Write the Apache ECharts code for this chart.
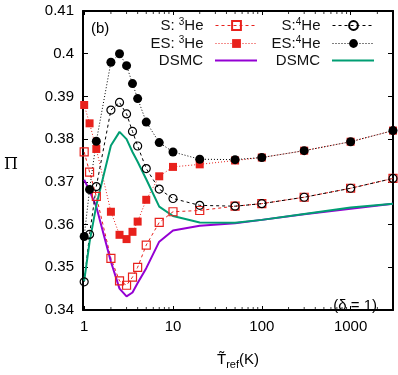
<!DOCTYPE html>
<html><head><meta charset="utf-8">
<script src="https://cdn.jsdelivr.net/npm/echarts@6/dist/echarts.min.js"></script>
<style>html,body{margin:0;padding:0;background:#fff}#c{width:398px;height:375px}</style>
</head><body><div id="c"></div>
<script>
// Temperatures (K) shared by all series
const temps = [1, 1.15, 1.37, 2, 2.5, 3, 3.5, 4, 5, 7, 10, 20, 50, 100, 300, 1000, 3000];
// S: 3He (open red squares, dashed)
const s3He  = [0.3770, 0.3723, 0.3666, 0.3521, 0.3468, 0.3458, 0.3477, 0.3500, 0.3552, 0.3605, 0.3630, 0.3633, 0.3643, 0.3649, 0.3664, 0.3685, 0.3708];
// ES: 3He (filled red squares, dotted)
const es3He = [0.3880, 0.3837, 0.3777, 0.3630, 0.3576, 0.3566, 0.3583, 0.3607, 0.3658, 0.3713, 0.3735, 0.3741, 0.3750, 0.3757, 0.3773, 0.3794, 0.3820];
// DSMC 3He (purple)
const dsmc3 = [0.3705, 0.3679, 0.3642, 0.3513, 0.3450, 0.3432, 0.3441, 0.3463, 0.3498, 0.3560, 0.3586, 0.3597, 0.3603, 0.3611, 0.3624, 0.3637, 0.3649];
// S: 4He (open black circles, dashed)
const s4He  = [0.3466, 0.3577, 0.3689, 0.3868, 0.3886, 0.3859, 0.3818, 0.3784, 0.3731, 0.3683, 0.3661, 0.3645, 0.3643, 0.3649, 0.3664, 0.3685, 0.3708];
// ES: 4He (filled black circles, dotted)
const es4He = [0.3572, 0.3682, 0.3795, 0.3980, 0.4000, 0.3972, 0.3930, 0.3895, 0.3840, 0.3792, 0.3770, 0.3753, 0.3752, 0.3757, 0.3773, 0.3794, 0.3820];
// DSMC 4He (green)
const dsmc4 = [0.3468, 0.3559, 0.3645, 0.3785, 0.3817, 0.3800, 0.3770, 0.3747, 0.3706, 0.3642, 0.3620, 0.3605, 0.3604, 0.3611, 0.3625, 0.3640, 0.3649];
// axis tick values
const xMajorTicks = [1, 10, 100, 1000];
const xMinorTicks = [2,3,4,5,6,7,8,9,20,30,40,50,60,70,80,90,200,300,400,500,600,700,800,900,2000];
const yRange = [0.34, 0.41];
const xRange = [0.97, 3000];

const FONT = '"Liberation Sans", Arial, Helvetica, sans-serif';
const RED = '#e8211c';
const PURPLE = '#9400d3';
const GREEN = '#009e73';
const pairs = ys => temps.map((t, i) => [t, ys[i]]);

const chart = echarts.init(document.getElementById('c'), null, {renderer: 'canvas'});

const legendRich = {
  n: {fontSize: 15, fontFamily: FONT, color: '#111', lineHeight: 17},
  s: {fontSize: 10, fontFamily: FONT, color: '#111', verticalAlign: 'top', lineHeight: 17, padding: [0, 0, 6, 0]},
  g: {width: 7}
};
const legendLabels = {
  'S3': '{n|S: }{s|3}{n|He}{g|}',
  'ES3': '{n|ES: }{s|3}{n|He}{g|}',
  'DSMC3': '{n|DSMC}{g|}',
  'S4': '{n|S:}{s|4}{n|He}{g|}',
  'ES4': '{n|ES:}{s|4}{n|He}{g|}',
  'DSMC4': '{n|DSMC}{g|}'
};
function mkLegend(name, right, top, noSymbol) {
  const item = noSymbol ? {name: name, itemStyle: {opacity: 0}} : {name: name};
  return {
    data: [item], right: right, top: top, padding: 0,
    align: 'right', itemWidth: 42, itemHeight: 11,
    selectedMode: false,
    lineStyle: {width: 'inherit'},
    formatter: n => legendLabels[n],
    textStyle: {fontFamily: FONT, fontSize: 15, color: '#111', rich: legendRich}
  };
}

function minorTickSeries(yv, off) {
  return {
    type: 'scatter', silent: true, clip: false, z: 20,
    symbol: 'rect', symbolSize: [1, 3], symbolOffset: [0, off],
    itemStyle: {color: '#000'},
    data: xMinorTicks.map(v => [v, yv]),
    tooltip: {show: false}
  };
}

const option = {
  animation: false,
  backgroundColor: '#fff',
  grid: {left: 83, right: 5, top: 11, bottom: 55, containLabel: false},
  legend: [
    mkLegend('S3', 140, 17),
    mkLegend('ES3', 140, 35),
    mkLegend('DSMC3', 140, 53, true),
    mkLegend('S4', 23, 17),
    mkLegend('ES4', 23, 35),
    mkLegend('DSMC4', 23, 53, true)
  ],
  xAxis: [{
    type: 'log', logBase: 10, min: xRange[0], max: xRange[1], position: 'bottom',
    axisLine: {show: true, lineStyle: {color: '#000', width: 2}},
    axisTick: {show: true, inside: true, length: 4, lineStyle: {color: '#000', width: 1}},
    axisLabel: {show: true, fontSize: 15, fontFamily: FONT, color: '#000', margin: 9,
      showMinLabel: false, showMaxLabel: false,
      formatter: v => (xMajorTicks.some(t => Math.abs(t - v) / t < 1e-6) ? String(Math.round(v)) : '')},
    splitLine: {show: false},
    name: '{t|T\u0303}{s|ref}{t|(K)}', nameLocation: 'middle', nameGap: 40,
    nameTextStyle: {rich: {
      t: {fontSize: 15, fontFamily: FONT, color: '#000', lineHeight: 20},
      s: {fontSize: 11, fontFamily: FONT, color: '#000', verticalAlign: 'bottom', lineHeight: 20, padding: [8, 0, 0, 0]}
    }}
  }, {
    type: 'log', logBase: 10, min: xRange[0], max: xRange[1], position: 'top',
    axisLine: {show: true, lineStyle: {color: '#000', width: 2}},
    axisTick: {show: true, inside: true, length: 4, lineStyle: {color: '#000', width: 1}},
    axisLabel: {show: false}, splitLine: {show: false}
  }],
  yAxis: [{
    type: 'value', min: yRange[0], max: yRange[1], interval: 0.01, position: 'left',
    axisLine: {show: true, lineStyle: {color: '#000', width: 2}},
    axisTick: {show: true, inside: true, length: 5, lineStyle: {color: '#000', width: 1}},
    axisLabel: {fontSize: 15, fontFamily: FONT, color: '#000', margin: 9,
      formatter: v => String(+v.toFixed(2))},
    splitLine: {show: false}
  }, {
    type: 'value', min: yRange[0], max: yRange[1], interval: 0.01, position: 'right',
    axisLine: {show: true, lineStyle: {color: '#000', width: 2}},
    axisTick: {show: true, inside: true, length: 5, lineStyle: {color: '#000', width: 1}},
    axisLabel: {show: false}, splitLine: {show: false}
  }],
  series: [
    {name: 'S3', type: 'line', data: pairs(s3He), clip: false, symbol: 'rect', symbolSize: 8,
      itemStyle: {color: 'rgba(255,255,255,0)', borderColor: RED, borderWidth: 1.2},
      lineStyle: {color: RED, width: 1, type: [3, 3]}},
    {name: 'ES3', type: 'line', data: pairs(es3He), clip: false, symbol: 'rect', symbolSize: 8,
      itemStyle: {color: RED},
      lineStyle: {color: RED, width: 1, type: [1, 2]}},
    {name: 'DSMC3', type: 'line', data: pairs(dsmc3), clip: false, symbol: 'none', showSymbol: false,
      itemStyle: {color: PURPLE},
      lineStyle: {color: PURPLE, width: 2}},
    {name: 'S4', type: 'line', data: pairs(s4He), clip: false, symbol: 'circle', symbolSize: 8,
      itemStyle: {color: 'rgba(255,255,255,0)', borderColor: '#000', borderWidth: 1.2},
      lineStyle: {color: '#000', width: 1, type: [3, 3]}},
    {name: 'ES4', type: 'line', data: pairs(es4He), clip: false, symbol: 'circle', symbolSize: 9,
      itemStyle: {color: '#000'},
      lineStyle: {color: '#000', width: 1, type: [1, 2]}},
    {name: 'DSMC4', type: 'line', data: pairs(dsmc4), clip: false, symbol: 'none', showSymbol: false,
      itemStyle: {color: GREEN},
      lineStyle: {color: GREEN, width: 2}},
    minorTickSeries(yRange[0], -1.5),
    minorTickSeries(yRange[1], 1.5)
  ],
  graphic: [
    {type: 'text', left: 91, top: 21, style: {text: '(b)', fontSize: 15, fontFamily: FONT, fill: '#000'}},
    {type: 'text', right: 21, top: 298, style: {text: '(\u03B4 = 1)', fontSize: 15, fontFamily: FONT, fill: '#000'}},
    {type: 'text', left: 4, top: 157, style: {text: '\u03A0', fontSize: 16, fontFamily: '"DejaVu Serif", "Liberation Serif", serif', fill: '#000'}}
  ]
};
chart.setOption(option);
</script>
</body></html>
